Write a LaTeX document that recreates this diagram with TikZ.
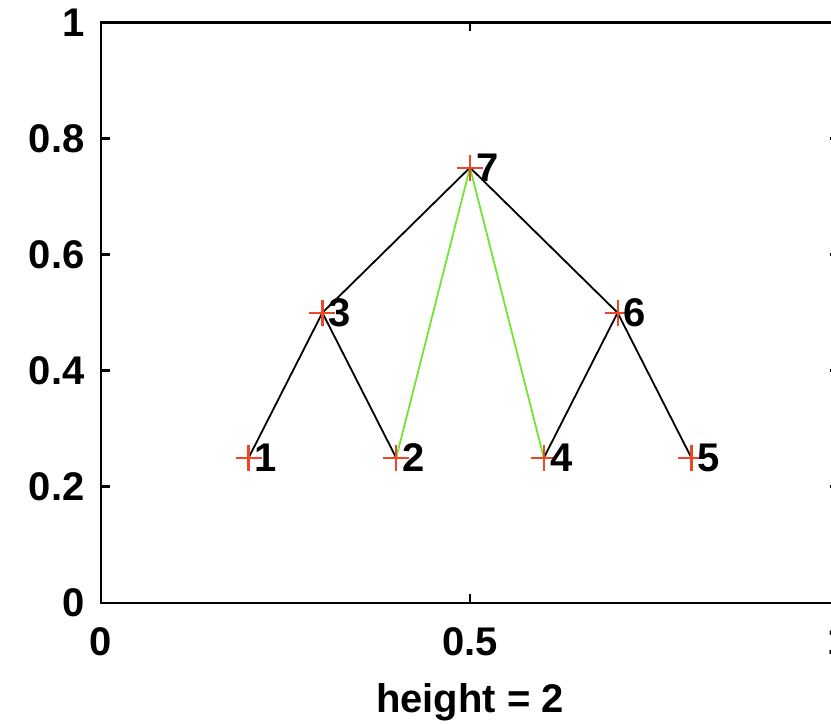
\documentclass[tikz,border=0pt]{standalone}
\usepackage{fontspec}
\setmainfont{Liberation Sans}
\definecolor{pred}{RGB}{240,70,40}
\definecolor{lgreen}{RGB}{110,230,50}
\begin{document}
\begin{tikzpicture}[x=369pt, y=290.25pt,
        font=\fontsize{20}{24}\selectfont\bfseries,
        axis/.style={line width=1.4pt},
        edge/.style={line width=0.9pt},
        hilite/.style={edge, draw=lgreen},
        redplus/.style={draw=pred, line width=1.1pt},
        num/.style={anchor=west, inner sep=0pt, xshift=3pt},
        ticklab/.style={inner sep=0pt}]
    \useasboundingbox (-0.13686,-0.21016) rectangle (0.98916,1.03876);
    \clip (-0.13686,-0.21016) rectangle (0.98916,1.03876);
    % axes box and ticks
    \draw[axis] (0,0) rectangle (1,1);
    \foreach \y in {0,0.2,0.4,0.6,0.8,1} {
        \draw[axis] (0,\y) -- ++(4.5pt,0);
        \draw[axis] (1,\y) -- ++(-4.5pt,0);
    }
    \foreach \x in {0,0.5,1} {
        \draw[axis] (\x,0) -- ++(0,4.5pt);
        \draw[axis] (\x,1) -- ++(0,-4.5pt);
    }
    \foreach \y/\t in {0/0,0.2/0.2,0.4/0.4,0.6/0.6,0.8/0.8,1/1}
        \node[ticklab, anchor=east] (ylab\t) at ([xshift=-8pt]0,\y) {\t};
    \foreach \x/\t in {0/0,0.5/0.5,1/1}
        \node[ticklab, anchor=north] (xlab\t) at ([yshift=-12pt]\x,0) {\t};
    \node[ticklab, anchor=north] (xtitle) at ([yshift=-40pt]0.5,0) {height = 2};
    % tree nodes
    \foreach \n/\x/\y in {1/0.2/0.25, 2/0.4/0.25, 3/0.3/0.5, 4/0.6/0.25,
                          5/0.8/0.25, 6/0.7/0.5, 7/0.5/0.75}
        \coordinate (n\n) at (\x,\y);
    % links
    \draw[edge] (n7) -- (n3);
    \draw[edge] (n7) -- (n6);
    \draw[edge] (n3) -- (n1);
    \draw[edge] (n3) -- (n2);
    \draw[edge] (n6) -- (n4);
    \draw[edge] (n6) -- (n5);
    \draw[hilite] (n7) -- (n2);
    \draw[hilite] (n7) -- (n4);
    % markers and numbers
    \foreach \n in {1,...,7} {
        \draw[redplus] ([xshift=-6.5pt]n\n) -- ([xshift=6.5pt]n\n)
                       ([yshift=-6.5pt]n\n) -- ([yshift=6.5pt]n\n);
        \node[num] (lab\n) at (n\n) {\n};
    }
\end{tikzpicture}
\end{document}
